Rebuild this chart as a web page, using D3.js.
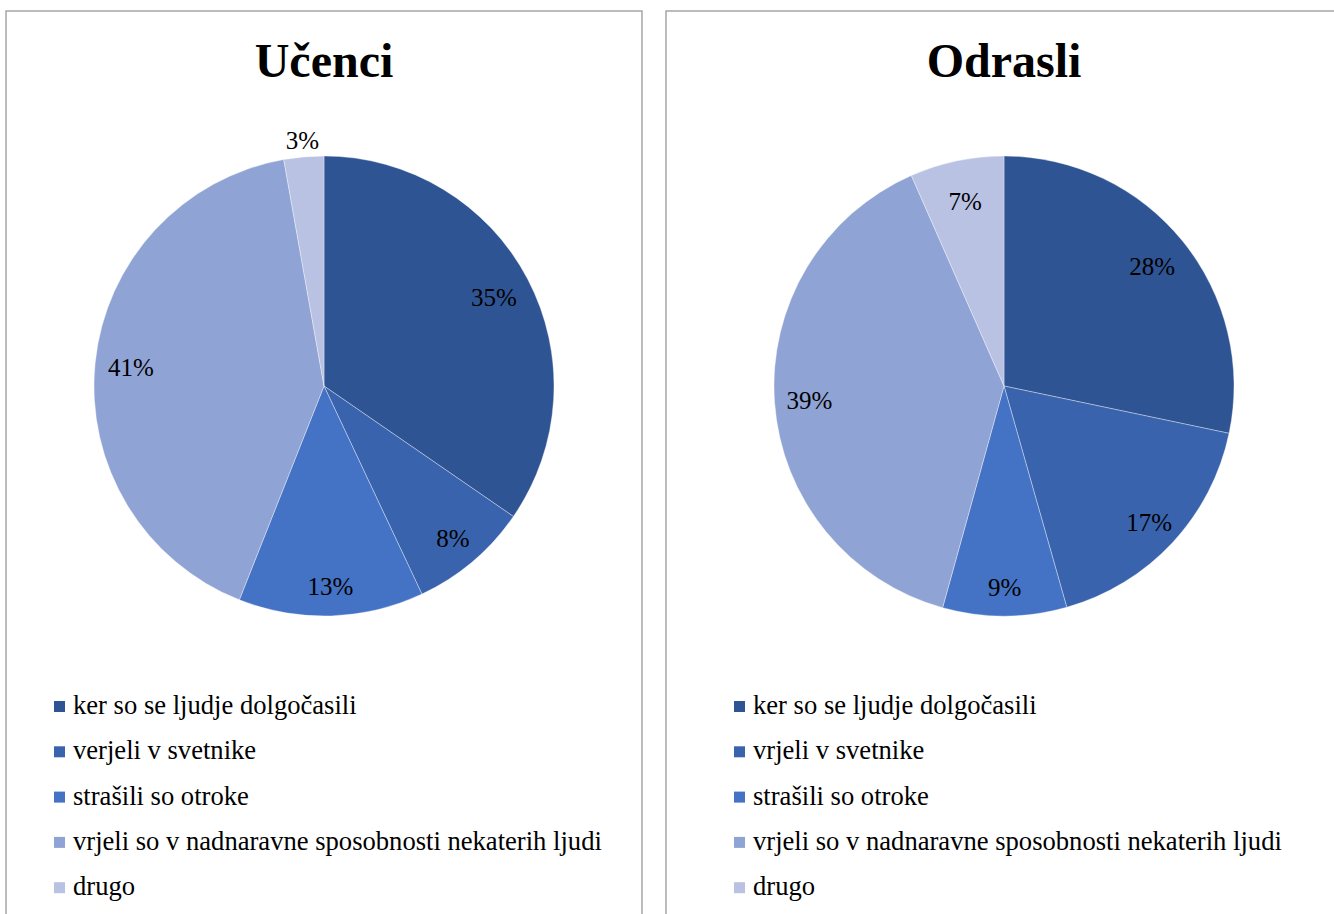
<!DOCTYPE html>
<html>
<head>
<meta charset="utf-8">
<script src="https://cdn.jsdelivr.net/npm/d3@7"></script>
<style>
  body { margin: 0; background: #fff; }
  svg { display: block; }
</style>
</head>
<body>
<svg id="chart" width="1334" height="914"></svg>
<script>
// categories (legend order)
var categoriesUcenci = ['ker so se ljudje dolgočasili', 'verjeli v svetnike', 'strašili so otroke',
                        'vrjeli so v nadnaravne sposobnosti nekaterih ljudi', 'drugo'];
var categoriesOdrasli = ['ker so se ljudje dolgočasili', 'vrjeli v svetnike', 'strašili so otroke',
                         'vrjeli so v nadnaravne sposobnosti nekaterih ljudi', 'drugo'];

// shares in percent
var valuesUcenci = [34.6, 8.4, 13.0, 41.2, 2.8];
var valuesOdrasli = [28.3, 17.3, 8.7, 39.1, 6.6];

var titles = ['Učenci', 'Odrasli'];

var colors = ['#2f5493', '#3a63ad', '#4472c4', '#8fa3d4', '#b9c2e2'];

var FONT = "'Liberation Serif'";

var svg = d3.select('#chart');

var panels = [
    { title: titles[0], cats: categoriesUcenci, vals: valuesUcenci, left: 6, right: 642, cx: 324 },
    { title: titles[1], cats: categoriesOdrasli, vals: valuesOdrasli, left: 666, right: 1342, cx: 1004 }
];

var R = 230;
var pie = d3.pie().sort(null).value(function (d) { return d; });
var arc = d3.arc().innerRadius(0).outerRadius(R);
var pct = d3.format('.0%');

panels.forEach(function (p) {
    var g = svg.append('g');

    // frame (runs off the bottom of the picture)
    g.append('path')
        .attr('d', 'M' + p.left + ',930V11H' + p.right + 'V930')
        .attr('fill', 'none')
        .attr('stroke', '#a6a6a6')
        .attr('stroke-width', 1.5);

    g.append('text')
        .attr('x', p.cx)
        .attr('y', 77)
        .attr('text-anchor', 'middle')
        .attr('font-family', FONT)
        .attr('font-size', 48)
        .attr('font-weight', 'bold')
        .text(p.title);

    var total = d3.sum(p.vals);
    var arcs = pie(p.vals);
    var pg = g.append('g').attr('transform', 'translate(' + p.cx + ',386)');

    pg.selectAll('path.slice')
        .data(arcs)
        .enter().append('path')
        .attr('class', 'slice')
        .attr('d', arc)
        .attr('fill', function (d, i) { return colors[i]; })
        .attr('stroke', '#ffffff')
        .attr('stroke-opacity', 0.6)
        .attr('stroke-width', 0.6);

    // labels: inside near the rim, small slices just outside
    pg.selectAll('text.lbl')
        .data(arcs)
        .enter().append('text')
        .attr('class', 'lbl')
        .attr('text-anchor', 'middle')
        .attr('font-family', FONT)
        .attr('font-size', 25)
        .attr('transform', function (d) {
            var a = (d.startAngle + d.endAngle) / 2;
            var share = d.value / total;
            var rr = share < 0.05 ? R + 17 : R * 0.82 + 6 * (1 - Math.cos(a));
            return 'translate(' + (Math.sin(a) * rr) + ',' + (-Math.cos(a) * rr + 9) + ')';
        })
        .text(function (d) { return pct(d.value / total); });

    // legend, centred under the pie
    var lg = g.append('g').attr('transform', 'translate(' + (p.cx - 270) + ',706)');
    var rows = lg.selectAll('g.row')
        .data(p.cats)
        .enter().append('g')
        .attr('class', 'row')
        .attr('transform', function (d, i) { return 'translate(0,' + (i * 45.3) + ')'; });
    rows.append('rect')
        .attr('x', 0).attr('y', -5)
        .attr('width', 11).attr('height', 11)
        .attr('fill', function (d, i) { return colors[i]; });
    rows.append('text')
        .attr('x', 19)
        .attr('y', 8)
        .attr('font-family', FONT)
        .attr('font-size', 26.6)
        .text(function (d) { return d; });
});
</script>
</body>
</html>
